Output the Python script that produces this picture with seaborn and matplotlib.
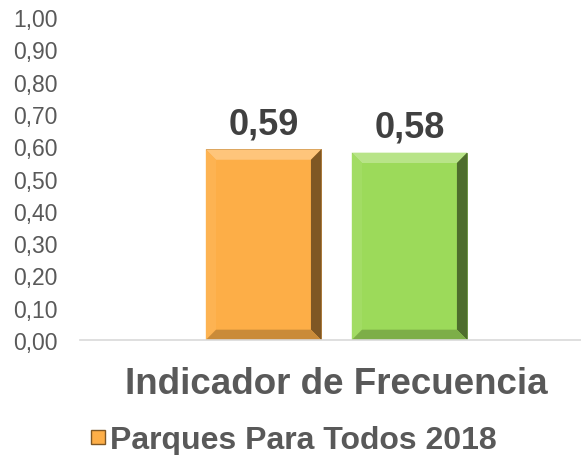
import numpy as np
import matplotlib
matplotlib.use("Agg")
import matplotlib.pyplot as plt
import matplotlib.colors as mcolors
from matplotlib.patches import Polygon
from matplotlib.lines import Line2D
from matplotlib.ticker import FuncFormatter
import seaborn as sns

# ─── Datos ───────────────────────────────────────────────────────────────────
barras = ["Parques Para Todos 2018 (a)", "Parques Para Todos 2018 (b)"]
valores = [0.59, 0.58]
colores = ["#FDAE47", "#9CDA5A"]
categoria = "Indicador de Frecuencia"
serie = "Parques Para Todos 2018"
yticks = [0.0, 0.1, 0.2, 0.3, 0.4, 0.5, 0.6, 0.7, 0.8, 0.9, 1.0]

GRIS_TEXTO = "#595959"
GRIS_VALOR = "#404040"


def sombra(color, f):
    """f > 0 aclara hacia blanco, f < 0 oscurece hacia negro."""
    c = np.array(mcolors.to_rgb(color))
    if f >= 0:
        return tuple(c + (1 - c) * f)
    return tuple(c * (1 + f))


sns.set_theme(style="white")
plt.rcParams["font.family"] = ["Liberation Sans", "DejaVu Sans"]

fig = plt.figure(figsize=(5.81, 4.56), dpi=100)
ax = fig.add_axes([80 / 581, 115 / 456, 1 - 80 / 581, (341 - 18) / 456])

sns.barplot(x=barras, y=valores, hue=barras, palette=colores,
            legend=False, width=0.79, ax=ax, saturation=1)

# Efecto bisel sobre cada barra
bx, by = 0.07, 0.032
for p in list(ax.patches):
    x0, w, h = p.get_x(), p.get_width(), p.get_height()
    x1 = x0 + w
    base = p.get_facecolor()
    p.set_edgecolor(sombra(base, -0.35))
    p.set_linewidth(0.6)
    caras = [
        ([(x0, h), (x1, h), (x1 - bx, h - by), (x0 + bx, h - by)], 0.28),
        ([(x0, 0), (x0 + bx, by), (x0 + bx, h - by), (x0, h)], 0.06),
        ([(x1, 0), (x1, h), (x1 - bx, h - by), (x1 - bx, by)], -0.5),
        ([(x0, 0), (x1, 0), (x1 - bx, by), (x0 + bx, by)], -0.2),
    ]
    for pts, f in caras:
        ax.add_patch(Polygon(pts, closed=True, facecolor=sombra(base, f),
                             edgecolor="none", zorder=p.get_zorder() + 0.1))

for cont in ax.containers:
    ax.bar_label(cont, labels=[f"{v:.2f}".replace(".", ",") for v in cont.datavalues],
                 padding=6, fontsize=26, fontweight="bold", color=GRIS_VALOR)

ax.set_ylim(0, 1)
ax.set_xlim(-1.257, 2.175)
ax.set_yticks(yticks)
ax.yaxis.set_major_formatter(FuncFormatter(lambda v, _: f"{v:.2f}".replace(".", ",")))
ax.tick_params(axis="y", length=0, pad=16, labelsize=16.5, labelcolor=GRIS_TEXTO)

ax.set_xticks([0.5])
ax.set_xticklabels([categoria], fontsize=26.5, fontweight="bold", color=GRIS_TEXTO)
ax.tick_params(axis="x", length=0, pad=19)
ax.set_xlabel("")
ax.set_ylabel("")

for lado in ["top", "left", "right"]:
    ax.spines[lado].set_visible(False)
ax.spines["bottom"].set_color("#D9D9D9")
ax.spines["bottom"].set_linewidth(1.2)

marca = Line2D([], [], marker="s", linestyle="none", markersize=10,
               markerfacecolor=colores[0], markeredgecolor=sombra(colores[0], -0.5))
leg = fig.legend(handles=[marca], labels=[serie], loc="center left",
                 bbox_to_anchor=(88 / 581, 1 - 441 / 456), frameon=False,
                 handletextpad=0.1, borderpad=0, borderaxespad=0,
                 handlelength=0.6, prop={"size": 23, "weight": "bold"})
for t in leg.get_texts():
    t.set_color(GRIS_TEXTO)

fig.savefig("out.png", dpi=100)
